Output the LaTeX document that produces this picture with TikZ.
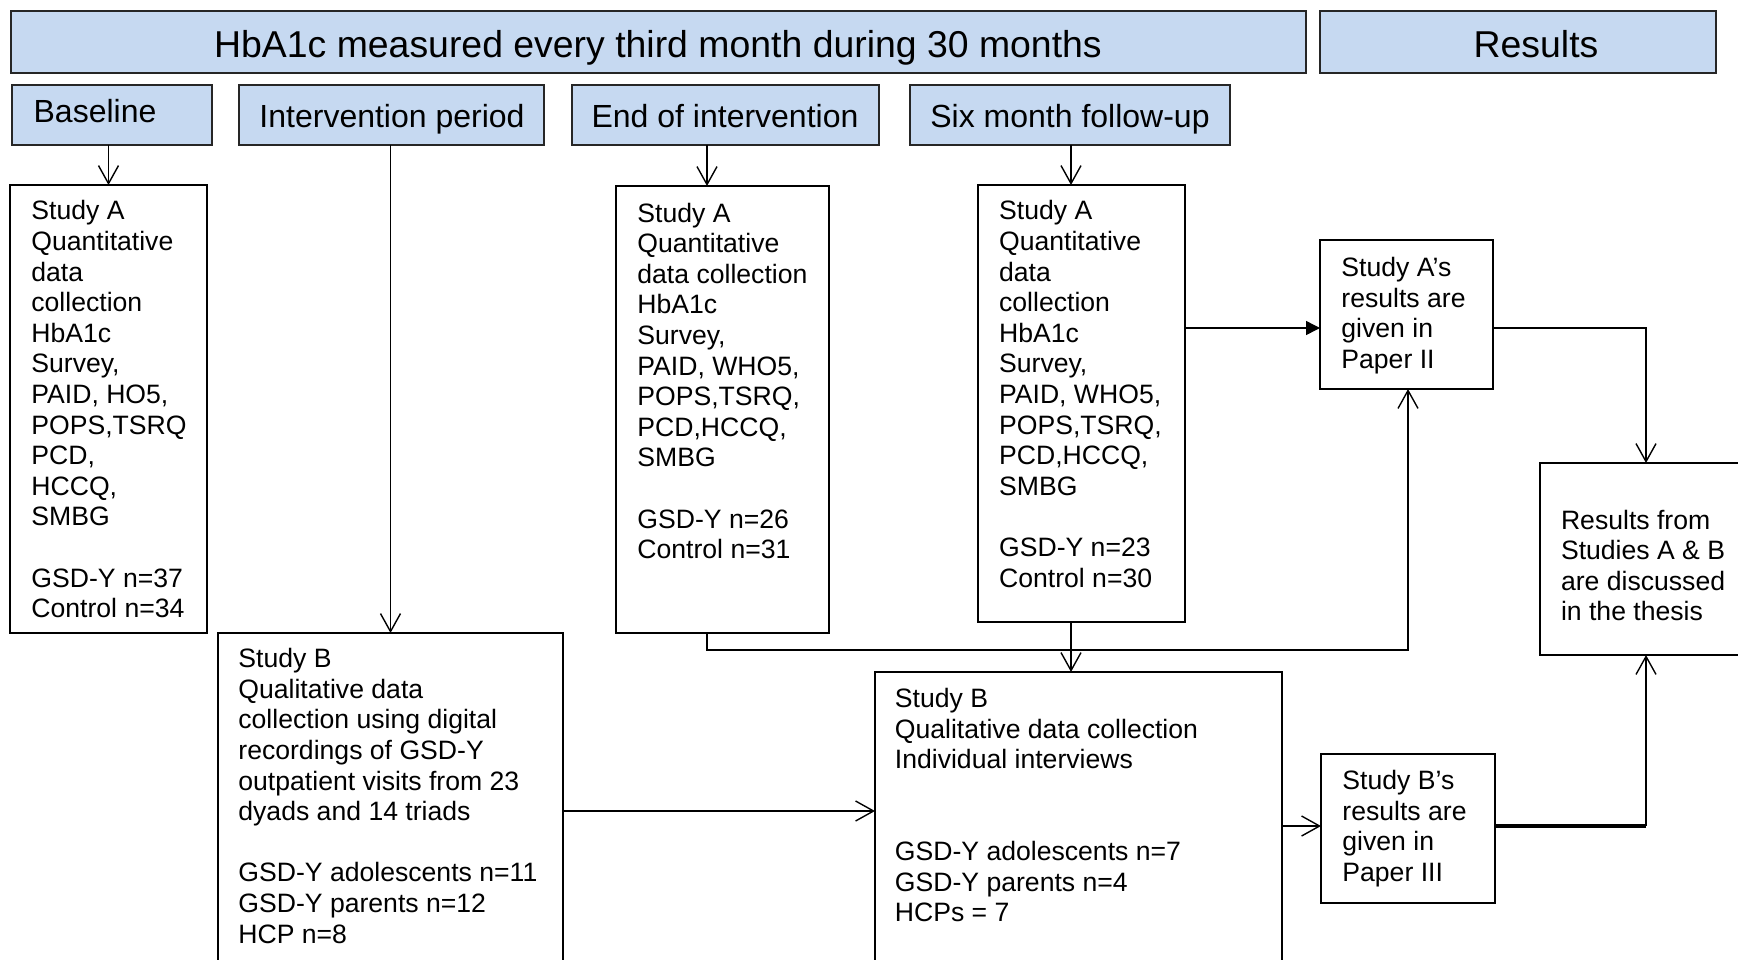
\documentclass[tikz,border=0pt]{standalone}
\usepackage{fontspec}
\setmainfont{Liberation Sans}
\usetikzlibrary{arrows.meta,fit,calc}
\definecolor{hdr}{RGB}{198,217,241}
\begin{document}
\begin{tikzpicture}[x=0.5pt,y=-0.5pt,
  box/.style={draw=black, line width=0.8pt, inner sep=0pt, outer sep=0pt},
  hbox/.style={box, draw=black!85, line width=1pt, fill=hdr},
  htxt/.style={anchor=base, inner sep=0pt, font=\fontsize{16}{18}\selectfont},
  ttxt/.style={anchor=base, inner sep=0pt, font=\fontsize{18.7}{21}\selectfont},
  txt/.style={anchor=north west, align=left, inner sep=0pt, font=\fontsize{13.3}{15.3}\selectfont},
  arr/.style={line width=0.7pt, -{Straight Barb[length=9pt,width=10pt,line width=0.7pt]}},
  ln/.style={line width=0.7pt}]
\useasboundingbox (0,0) rectangle (1738,959);
\clip (0,0) rectangle (1738,959);
% header bars
\node[hbox, fit={(11,11)(1306,73)}] (title) {};
\node[ttxt] (titlet) at (658,57.6) {HbA1c measured every third month during 30 months};
\node[hbox, fit={(1320,11)(1716,73)}] (res) {};
\node[ttxt] (rest) at (1536,57.6) {Results};
\node[hbox, fit={(12,85)(212,145)}] (hb) {};
\node[htxt] (hbt) at (95,122.3) {Baseline};
\node[hbox, fit={(239,85)(544,145)}] (hi) {};
\node[htxt] (hit) at (392,127.9) {Intervention period};
\node[hbox, fit={(572,85)(879,145)}] (he) {};
\node[htxt] (het) at (725,127.9) {End of intervention};
\node[hbox, fit={(910,85)(1230,145)}] (hs) {};
\node[htxt] (hst) at (1070,127.9) {Six month follow-up};
% boxes
\node[box, fit={(10,185)(207,633)}] (ba) {};
\node[txt] (bat) at (31,199.5) {\rule{0pt}{10pt}Study A\\Quantitative\\data\\collection\\HbA1c\\Survey,\\PAID, HO5,\\POPS,TSRQ\\PCD,\\HCCQ,\\SMBG\\[15.3pt]GSD-Y n=37\\Control n=34};
\node[box, fit={(616,186)(829,633)}] (eb) {};
\node[txt] (ebt) at (637,201.7) {\rule{0pt}{10pt}Study A\\Quantitative\\data collection\\HbA1c\\Survey,\\PAID, WHO5,\\POPS,TSRQ,\\PCD,HCCQ,\\SMBG\\[15.3pt]GSD-Y n=26\\Control n=31};
\node[box, fit={(978,185)(1185,622)}] (sb) {};
\node[txt] (sbt) at (998.7,199.5) {\rule{0pt}{10pt}Study A\\Quantitative\\data\\collection\\HbA1c\\Survey,\\PAID, WHO5,\\POPS,TSRQ,\\PCD,HCCQ,\\SMBG\\[15.3pt]GSD-Y n=23\\Control n=30};
\node[box, fit={(1320,240)(1493,389)}] (ar) {};
\node[txt] (art) at (1341,256) {\rule{0pt}{10pt}Study A’s\\results are\\given in\\Paper II};
\node[box, fit={(1540,463)(1745,655)}] (rf) {};
\node[txt] (rft) at (1560.6,508.7) {\rule{0pt}{10pt}Results from\\Studies A \& B\\are discussed\\in the thesis};
\node[box, fit={(218,633)(563,970)}] (bl) {};
\node[txt] (blt) at (238,647.3) {\rule{0pt}{10pt}Study B\\Qualitative data\\collection using digital\\recordings of GSD-Y\\outpatient visits from 23\\dyads and 14 triads\\[15.3pt]GSD-Y adolescents n=11\\GSD-Y parents n=12\\HCP n=8};
\node[box, fit={(875,672)(1282,970)}] (bm) {};
\node[txt] (bmt) at (894.5,687.2) {\rule{0pt}{10pt}Study B\\Qualitative data collection\\Individual interviews\\[30.6pt]GSD-Y adolescents n=7\\GSD-Y parents n=4\\HCPs = 7};
\node[box, fit={(1321,754)(1495,903)}] (br) {};
\node[txt] (brt) at (1342,769.2) {\rule{0pt}{10pt}Study B’s\\results are\\given in\\Paper III};
% helper coordinates
\coordinate (xe) at (707,0);
\coordinate (xs) at (1071,0);
\coordinate (jl) at (707,650);
\coordinate (jr) at (1408,650);
\coordinate (ya) at (0,328);
\coordinate (xr) at (1646,0);
\coordinate (yb1) at (0,811);
\coordinate (yb2) at (0,826);
% connectors
\draw[arr] (ba.north |- hb.south) -- (ba.north);
\draw[arr] (bl.north |- hi.south) -- (bl.north);
\draw[arr] (xe |- he.south) -- (xe |- eb.north);
\draw[arr] (xs |- hs.south) -- (xs |- sb.north);
\draw[arr] (xs |- sb.south) -- (xs |- bm.north);
\draw[arr] (xe |- eb.south) -- (jl) -- (jr) -- (jr |- ar.south);
\draw[ln, -{Triangle[length=7pt,width=7pt]}] (sb.east |- ya) -- (ar.west |- ya);
\draw[arr] (ar.east |- ya) -- (xr |- ya) -- (xr |- rf.north);
\draw[arr] (bl.east |- yb1) -- (bm.west |- yb1);
\draw[arr] (bm.east |- yb2) -- (br.west |- yb2);
\draw[line width=1.6pt] (br.east |- yb2) -- (xr |- yb2);
\draw[arr] (xr |- yb2) -- (xr |- rf.south);
\end{tikzpicture}
\end{document}
